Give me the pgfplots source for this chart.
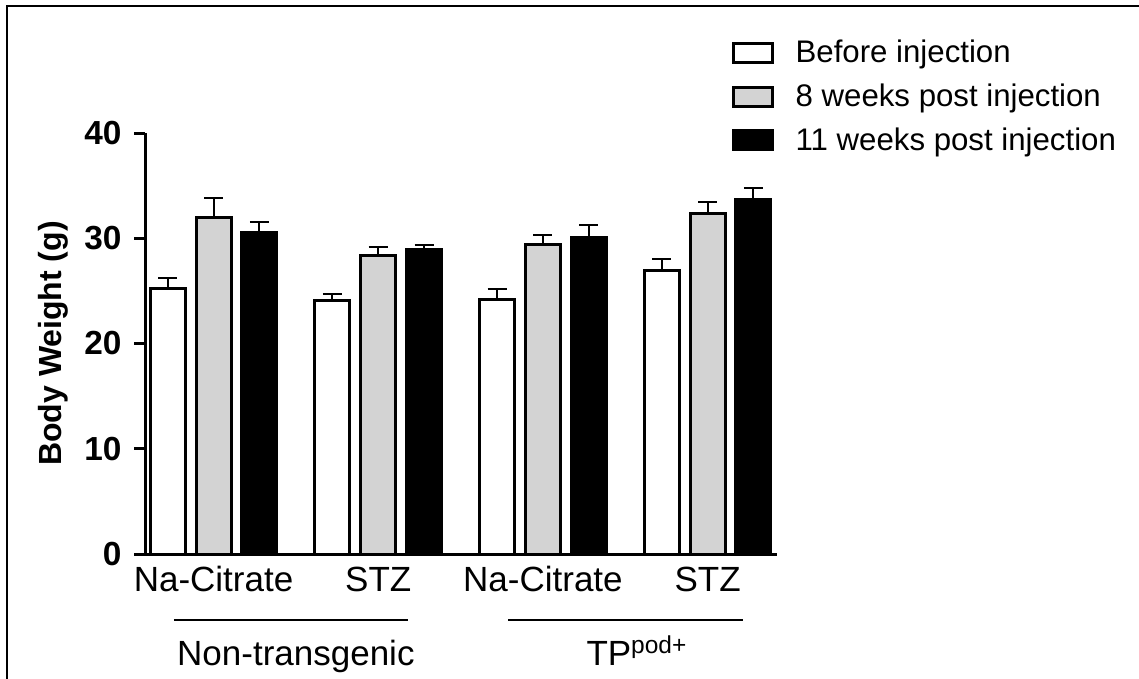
\documentclass[border=0pt]{standalone}
\usepackage{pgfplots}
\pgfplotsset{compat=1.18}
\usepackage{fontspec}
\setmainfont{Liberation Sans}
\definecolor{barGray}{RGB}{211,211,211}

\begin{document}
\begin{tikzpicture}
\useasboundingbox (0pt,0pt) rectangle (569.5pt,-339.5pt);
\draw[line width=1pt] (3.5pt,-339.5pt) -- (3.5pt,-3pt) -- (569.5pt,-3pt);
\begin{axis}[
  at={(72.5pt,-277pt)}, anchor=south west,
  scale only axis, width=316pt, height=210.5pt,
  xmin=0.584, xmax=4.421, ymin=0, ymax=40,
  clip=false,
  axis x line*=bottom, axis y line*=left,
  axis line style={line width=1.5pt,-},
  xtick={1,2,3,4},
  xticklabels={Na-Citrate, STZ, Na-Citrate, STZ},
  x tick style={draw=none},
  ytick={0,10,20,30,40},
  yticklabels={0,10,20,30,40},
  tick align=outside,
  major tick length=5.5pt,
  y tick style={line width=1.5pt, black},
  yticklabel style={font=\fontsize{11.5}{13}\selectfont\bfseries, scale=1.45, xshift=-0.8pt},
  xticklabel style={font=\fontsize{17.5}{20}\selectfont, anchor=base, yshift=-13pt},
  ylabel={Body Weight (g)},
  ylabel style={font=\bfseries\fontsize{16}{18}\selectfont, at={(axis description cs:-0.1448,0.5)}, anchor=center},
  legend style={at={(rel axis cs:0.9284,1.226)}, anchor=north west, draw=none, fill=none,
    inner sep=0pt, row sep=7pt, font=\fontsize{15.6}{18}\selectfont,
    nodes={inner sep=1pt},
    /tikz/every odd column/.append style={column sep=9.75pt}},
  legend cell align=left,
]
\addplot[ybar, bar width=0.2125, bar shift=0pt, draw=black, fill=white, line width=1.5pt,
  legend image code/.code={\draw[black, fill=white, line width=1.5pt] (0pt,-4.75pt) rectangle (19.5pt,4.75pt);},
  error bars/.cd, y dir=plus, y explicit,
  error bar style={line width=1pt, black},
  error mark options={line width=1pt, black, mark size=4.75pt, rotate=90}]
  coordinates {
  (0.722,25.2) +- (0,1.0)
  (1.722,24.1) +- (0,0.6)
  (2.722,24.2) +- (0,1.0)
  (3.722,26.9) +- (0,1.15)
  };
\addplot[ybar, bar width=0.2125, bar shift=0pt, draw=black, fill=barGray, line width=1.5pt,
  legend image code/.code={\draw[black, fill=barGray, line width=1.5pt] (0pt,-4.75pt) rectangle (19.5pt,4.75pt);},
  error bars/.cd, y dir=plus, y explicit,
  error bar style={line width=1pt, black},
  error mark options={line width=1pt, black, mark size=4.75pt, rotate=90}]
  coordinates {
  (1,32.0) +- (0,1.8)
  (2,28.4) +- (0,0.75)
  (3,29.4) +- (0,0.95)
  (4,32.35) +- (0,1.05)
  };
\addplot[ybar, bar width=0.2125, bar shift=0pt, draw=black, fill=black, line width=1.5pt,
  legend image code/.code={\draw[black, fill=black, line width=1.5pt] (0pt,-4.75pt) rectangle (19.5pt,4.75pt);},
  error bars/.cd, y dir=plus, y explicit,
  error bar style={line width=1pt, black},
  error mark options={line width=1pt, black, mark size=4.75pt, rotate=90}]
  coordinates {
  (1.278,30.55) +- (0,0.95)
  (2.278,28.9) +- (0,0.5)
  (3.278,30.05) +- (0,1.2)
  (4.278,33.7) +- (0,1.1)
  };
\legend{Before injection, 8 weeks post injection, 11 weeks post injection}
\draw[line width=1.25pt] (axis cs:0.760,-6.27) -- (axis cs:2.181,-6.27);
\draw[line width=1.25pt] (axis cs:2.788,-6.27) -- (axis cs:4.215,-6.27);
\node[anchor=base, font=\fontsize{17.5}{20}\selectfont, inner sep=0pt] at (axis cs:1.5,-10.64) {Non-transgenic};
\node[anchor=base west, font=\fontsize{17.5}{20}\selectfont, inner sep=0pt] at (axis cs:3.262,-10.64) {TP\textsuperscript{pod+}};
\end{axis}
\end{tikzpicture}
\end{document}
